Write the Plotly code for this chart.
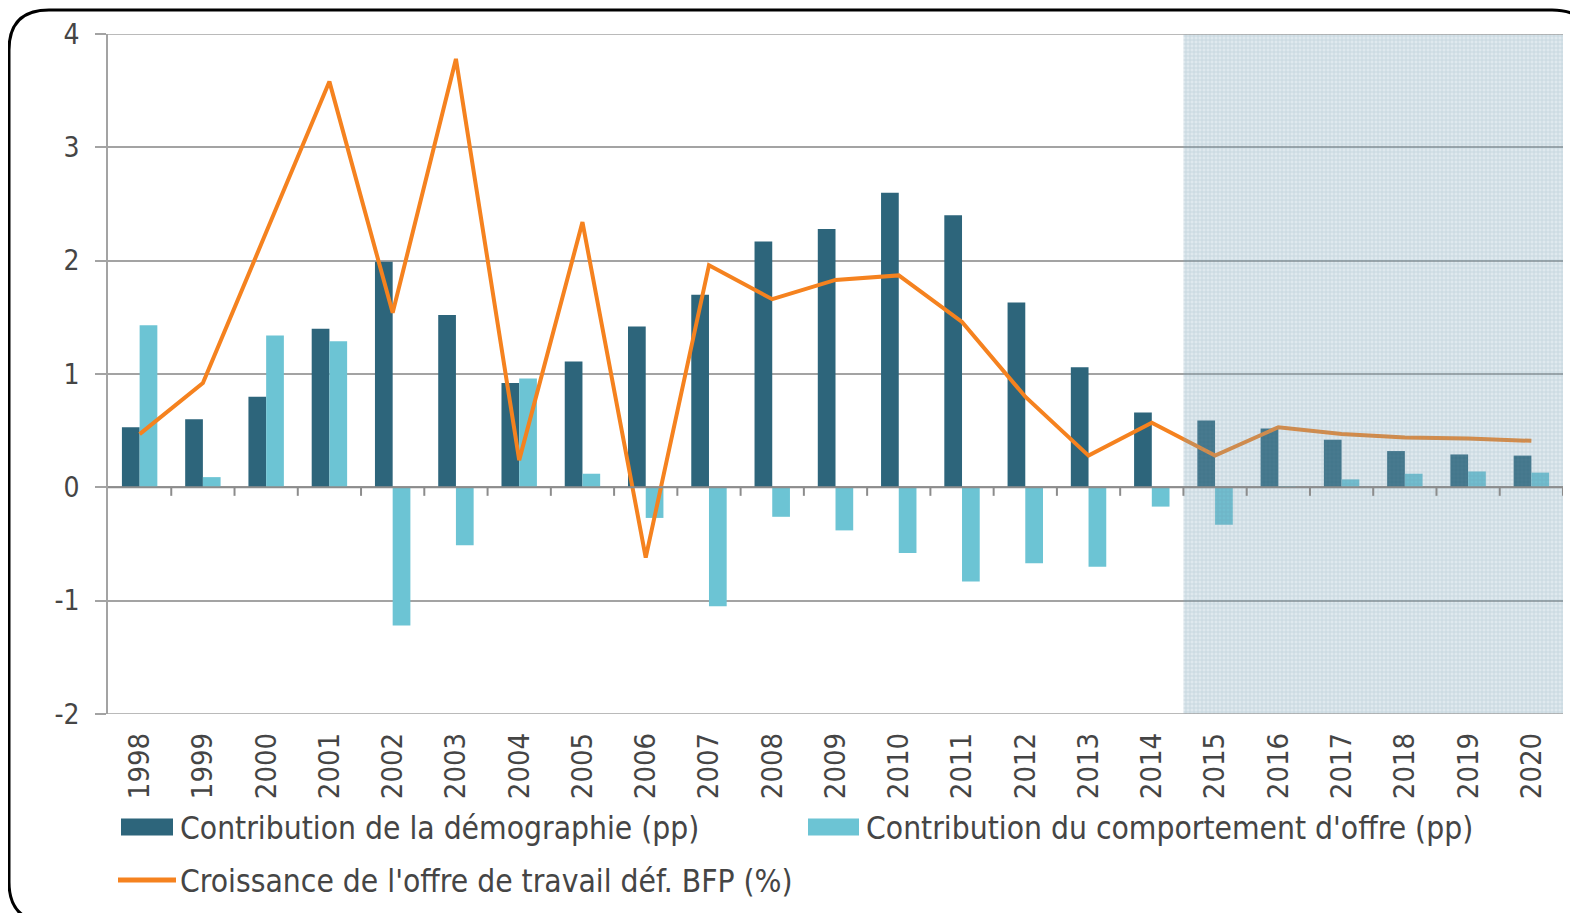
import plotly.graph_objects as go

years = list(range(1998, 2021))
demographie = [0.53, 0.60, 0.80, 1.40, 1.99, 1.52, 0.92, 1.11, 1.42, 1.70, 2.17, 2.28,
               2.60, 2.40, 1.63, 1.06, 0.66, 0.59, 0.52, 0.42, 0.32, 0.29, 0.28]
comportement = [1.43, 0.09, 1.34, 1.29, -1.22, -0.51, 0.96, 0.12, -0.27, -1.05, -0.26, -0.38,
                -0.58, -0.83, -0.67, -0.70, -0.17, -0.33, 0.01, 0.07, 0.12, 0.14, 0.13]
croissance = [0.47, 0.92, 2.25, 3.58, 1.54, 3.78, 0.24, 2.34, -0.62, 1.96, 1.66, 1.83,
              1.87, 1.46, 0.80, 0.28, 0.57, 0.28, 0.53, 0.47, 0.44, 0.43, 0.41]
projection_start = 2014.5
y_ticks = [-2, -1, 0, 1, 2, 3, 4]
y_ticktext = ["-2", "-1", "0", "1", "2", "3", "4"]

names = ["Contribution de la démographie (pp)",
         "Contribution du comportement d'offre (pp)",
         "Croissance de l'offre de travail déf. BFP (%)"]
colors = ["#2D657B", "#6CC4D4", "#F5821F"]

FONT = "DejaVu Sans Condensed, Roboto, sans-serif"
TXT = "#454545"
GRID = "#A3A3A3"

OFF = 8  # page body margin offset
W, H = 1578 - OFF, 913 - OFF
# target plot area in screen pixels
SL, ST, SR, SB = 108, 34, 1563, 714
L, T = SL - OFF, ST - OFF
R, B = W - (SR - OFF), H - (SB - OFF)
pw, ph = W - L - R, H - T - B

def px2paper(x, y):
    return (x - SL) / pw, (SB - y) / ph

fig = go.Figure()
fig.add_trace(go.Bar(x=years, y=demographie, name=names[0], marker_color=colors[0],
                     width=0.28, offset=-0.28, marker_line_width=0, showlegend=False))
fig.add_trace(go.Bar(x=years, y=comportement, name=names[1], marker_color=colors[1],
                     width=0.28, offset=0.0, marker_line_width=0, showlegend=False))
fig.add_trace(go.Scatter(x=years, y=croissance, name=names[2], mode="lines",
                         line=dict(color=colors[2], width=4), showlegend=False))

# shaded projection area (patterned, on top)
x_end = years[-1] + 0.5
fig.add_trace(go.Scatter(
    x=[projection_start, x_end, x_end, projection_start, projection_start],
    y=[y_ticks[0], y_ticks[0], y_ticks[-1], y_ticks[-1], y_ticks[0]],
    mode="lines", line=dict(width=0), fill="toself",
    fillcolor="rgba(130,170,188,0.26)",
    fillpattern=dict(shape="+", size=4, solidity=0.3,
                     fgcolor="rgba(95,135,155,0.5)", bgcolor="rgba(130,170,188,0.26)",
                     fillmode="overlay"),
    showlegend=False, hoverinfo="skip"))

shapes = []
annotations = []
# edge gridlines (top and bottom) incl. outside tick length
tick_px = 11
for yv in (y_ticks[0], y_ticks[-1]):
    shapes.append(dict(type="line", xref="paper", yref="y", x0=-tick_px / pw, x1=1, y0=yv, y1=yv,
                       line=dict(color=GRID, width=1.5), layer="above"))
# zero axis line with tick marks at category boundaries
shapes.append(dict(type="line", xref="x", yref="y", x0=years[0] - 0.5, x1=x_end, y0=0, y1=0,
                   line=dict(color="#8C8C8C", width=2), layer="above"))
for yb in range(years[0], years[-1] + 1):
    shapes.append(dict(type="line", xref="x", yref="y", x0=yb + 0.5, x1=yb + 0.5,
                       y0=0, y1=-0.075, line=dict(color="#8C8C8C", width=2), layer="above"))

# rounded border frame
x0, y0 = px2paper(9, 10)
x1, y1 = px2paper(1592, 922)
rx = 40 / pw
ry = 40 / ph
path = (f"M {x0+rx},{y0} L {x1-rx},{y0} Q {x1},{y0} {x1},{y0-ry} "
        f"L {x1},{y1+ry} Q {x1},{y1} {x1-rx},{y1} L {x0+rx},{y1} "
        f"Q {x0},{y1} {x0},{y1+ry} L {x0},{y0-ry} Q {x0},{y0} {x0+rx},{y0} Z")
shapes.append(dict(type="path", xref="paper", yref="paper", path=path,
                   line=dict(color="black", width=3), fillcolor="rgba(0,0,0,0)", layer="above"))

# legend (swatches + labels)
legend_items = [  # (swatch kind, swatch x0, x1, center y, text x)
    ("rect", 121, 173, 827, 178),
    ("rect", 808, 859, 827, 864),
    ("line", 118, 176, 880, 178),
]
for (kind, sx0, sx1, cy, tx), name, col in zip(legend_items, names, colors):
    a0, b0 = px2paper(sx0, cy)
    a1, _ = px2paper(sx1, cy)
    if kind == "rect":
        _, bt = px2paper(sx0, cy - 8.5)
        _, bb = px2paper(sx0, cy + 8.5)
        shapes.append(dict(type="rect", xref="paper", yref="paper", x0=a0, x1=a1, y0=bb, y1=bt,
                           fillcolor=col, line=dict(width=0)))
    else:
        shapes.append(dict(type="line", xref="paper", yref="paper", x0=a0, x1=a1, y0=b0, y1=b0,
                           line=dict(color=col, width=5)))
    ax, ay = px2paper(tx, cy + 1)
    annotations.append(dict(text=name, xref="paper", yref="paper", x=ax, y=ay,
                            xanchor="left", yanchor="middle", showarrow=False,
                            font=dict(family=FONT, size=31.5, color=TXT)))

fig.update_layout(
    width=W, height=H,
    margin=dict(l=L, r=R, t=T, b=B, autoexpand=False),
    paper_bgcolor="white", plot_bgcolor="white",
    font=dict(family=FONT, size=28, color=TXT),
    barmode="overlay",
    shapes=shapes,
    annotations=annotations,
    showlegend=False,
    xaxis=dict(range=[years[0] - 0.5, x_end], tickmode="array", tickvals=years,
               ticktext=[str(y) for y in years], tickangle=-90, showgrid=False,
               zeroline=False, showline=False, ticks="", ticklabelstandoff=12,
               tickfont=dict(family=FONT, size=29, color=TXT), fixedrange=True),
    yaxis=dict(range=[y_ticks[0], y_ticks[-1]], tickmode="array", tickvals=y_ticks,
               ticktext=y_ticktext, showgrid=True,
               gridcolor=GRID, gridwidth=1.5, zeroline=False, showline=True,
               linecolor=GRID, linewidth=1.5, ticks="outside", ticklen=tick_px,
               tickcolor=GRID, tickwidth=1.5, ticklabelstandoff=10,
               tickfont=dict(family=FONT, size=28, color=TXT)),
)

fig.write_html("out.html")
